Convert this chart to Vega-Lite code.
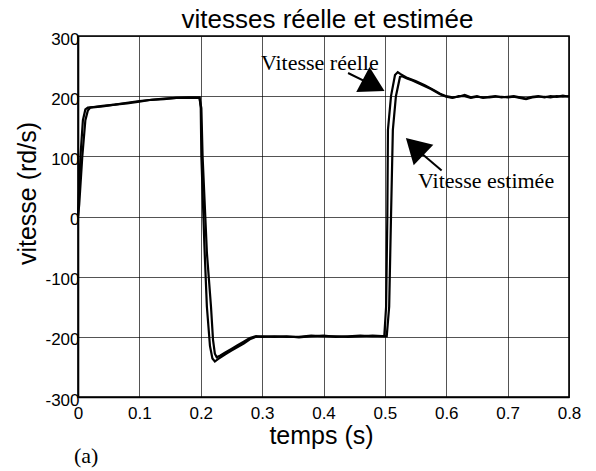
{
  "$schema": "https://vega.github.io/schema/vega-lite/v6.json",
  "width": 491,
  "height": 361,
  "autosize": {"type": "none"},
  "padding": {"left": 78, "top": 36, "right": 27, "bottom": 74},
  "background": "white",
  "config": {
    "view": {"stroke": "black", "strokeWidth": 1.6},
    "axis": {
      "domain": true, "domainColor": "black", "domainWidth": 1.6,
      "ticks": false, "tickSize": 0,
      "grid": true, "gridColor": "black", "gridOpacity": 0.85, "gridWidth": 0.8,
      "labelFont": "Liberation Sans", "labelFontSize": 17, "labelColor": "black",
      "titleFont": "Liberation Sans", "titleFontSize": 25, "titleFontWeight": "normal", "titleColor": "black"
    }
  },
  "title": {
    "text": "vitesses réelle et estimée",
    "font": "Liberation Sans", "fontSize": 26, "fontWeight": "normal", "color": "black",
    "anchor": "middle", "offset": -3, "dx": 4, "frame": "group"
  },
  "datasets": {
    "speed": [
      {"s": "réelle", "t": 0, "v": 0},
      {"s": "réelle", "t": 0.004, "v": 100},
      {"s": "réelle", "t": 0.008, "v": 160},
      {"s": "réelle", "t": 0.012, "v": 178},
      {"s": "réelle", "t": 0.016, "v": 181},
      {"s": "réelle", "t": 0.025, "v": 182},
      {"s": "réelle", "t": 0.04, "v": 184},
      {"s": "réelle", "t": 0.06, "v": 186},
      {"s": "réelle", "t": 0.08, "v": 189},
      {"s": "réelle", "t": 0.1, "v": 192},
      {"s": "réelle", "t": 0.12, "v": 194},
      {"s": "réelle", "t": 0.14, "v": 196},
      {"s": "réelle", "t": 0.16, "v": 197},
      {"s": "réelle", "t": 0.18, "v": 198},
      {"s": "réelle", "t": 0.198, "v": 198},
      {"s": "réelle", "t": 0.2, "v": 180},
      {"s": "réelle", "t": 0.201, "v": 100},
      {"s": "réelle", "t": 0.206, "v": -50},
      {"s": "réelle", "t": 0.21, "v": -150},
      {"s": "réelle", "t": 0.215, "v": -215},
      {"s": "réelle", "t": 0.219, "v": -236},
      {"s": "réelle", "t": 0.223, "v": -241},
      {"s": "réelle", "t": 0.228, "v": -237},
      {"s": "réelle", "t": 0.24, "v": -229},
      {"s": "réelle", "t": 0.25, "v": -223},
      {"s": "réelle", "t": 0.26, "v": -217},
      {"s": "réelle", "t": 0.27, "v": -211},
      {"s": "réelle", "t": 0.28, "v": -204},
      {"s": "réelle", "t": 0.29, "v": -200},
      {"s": "réelle", "t": 0.3, "v": -199},
      {"s": "réelle", "t": 0.32, "v": -200},
      {"s": "réelle", "t": 0.34, "v": -199},
      {"s": "réelle", "t": 0.36, "v": -201},
      {"s": "réelle", "t": 0.38, "v": -199},
      {"s": "réelle", "t": 0.4, "v": -198},
      {"s": "réelle", "t": 0.42, "v": -200},
      {"s": "réelle", "t": 0.44, "v": -199},
      {"s": "réelle", "t": 0.46, "v": -198},
      {"s": "réelle", "t": 0.48, "v": -199},
      {"s": "réelle", "t": 0.499, "v": -199},
      {"s": "réelle", "t": 0.502, "v": -150},
      {"s": "réelle", "t": 0.504, "v": 0},
      {"s": "réelle", "t": 0.505, "v": 144},
      {"s": "réelle", "t": 0.51, "v": 200},
      {"s": "réelle", "t": 0.5165, "v": 235},
      {"s": "réelle", "t": 0.521, "v": 240},
      {"s": "réelle", "t": 0.525, "v": 237},
      {"s": "réelle", "t": 0.535, "v": 231},
      {"s": "réelle", "t": 0.55, "v": 225},
      {"s": "réelle", "t": 0.565, "v": 218},
      {"s": "réelle", "t": 0.58, "v": 210},
      {"s": "réelle", "t": 0.59, "v": 204},
      {"s": "réelle", "t": 0.6, "v": 200},
      {"s": "réelle", "t": 0.61, "v": 198},
      {"s": "réelle", "t": 0.62, "v": 199},
      {"s": "réelle", "t": 0.63, "v": 202},
      {"s": "réelle", "t": 0.64, "v": 198},
      {"s": "réelle", "t": 0.65, "v": 200},
      {"s": "réelle", "t": 0.66, "v": 197},
      {"s": "réelle", "t": 0.67, "v": 199},
      {"s": "réelle", "t": 0.68, "v": 200},
      {"s": "réelle", "t": 0.69, "v": 198},
      {"s": "réelle", "t": 0.7, "v": 199},
      {"s": "réelle", "t": 0.71, "v": 200},
      {"s": "réelle", "t": 0.72, "v": 198},
      {"s": "réelle", "t": 0.73, "v": 196},
      {"s": "réelle", "t": 0.74, "v": 199},
      {"s": "réelle", "t": 0.75, "v": 200},
      {"s": "réelle", "t": 0.76, "v": 198},
      {"s": "réelle", "t": 0.77, "v": 200},
      {"s": "réelle", "t": 0.78, "v": 199},
      {"s": "réelle", "t": 0.79, "v": 201},
      {"s": "réelle", "t": 0.8, "v": 199},
      {"s": "estimée", "t": 0, "v": 0},
      {"s": "estimée", "t": 0.002, "v": 20},
      {"s": "estimée", "t": 0.007, "v": 100},
      {"s": "estimée", "t": 0.012, "v": 160},
      {"s": "estimée", "t": 0.016, "v": 176},
      {"s": "estimée", "t": 0.02, "v": 181},
      {"s": "estimée", "t": 0.04, "v": 183},
      {"s": "estimée", "t": 0.06, "v": 186},
      {"s": "estimée", "t": 0.08, "v": 188},
      {"s": "estimée", "t": 0.1, "v": 191},
      {"s": "estimée", "t": 0.12, "v": 194},
      {"s": "estimée", "t": 0.14, "v": 195},
      {"s": "estimée", "t": 0.16, "v": 197},
      {"s": "estimée", "t": 0.18, "v": 197},
      {"s": "estimée", "t": 0.198, "v": 197},
      {"s": "estimée", "t": 0.201, "v": 180},
      {"s": "estimée", "t": 0.203, "v": 100},
      {"s": "estimée", "t": 0.21, "v": -60},
      {"s": "estimée", "t": 0.2167, "v": -150},
      {"s": "estimée", "t": 0.22, "v": -205},
      {"s": "estimée", "t": 0.223, "v": -228},
      {"s": "estimée", "t": 0.226, "v": -234},
      {"s": "estimée", "t": 0.232, "v": -231},
      {"s": "estimée", "t": 0.24, "v": -226},
      {"s": "estimée", "t": 0.25, "v": -220},
      {"s": "estimée", "t": 0.26, "v": -214},
      {"s": "estimée", "t": 0.27, "v": -208},
      {"s": "estimée", "t": 0.28, "v": -202},
      {"s": "estimée", "t": 0.29, "v": -199},
      {"s": "estimée", "t": 0.3, "v": -200},
      {"s": "estimée", "t": 0.32, "v": -199},
      {"s": "estimée", "t": 0.34, "v": -200},
      {"s": "estimée", "t": 0.36, "v": -200},
      {"s": "estimée", "t": 0.38, "v": -198},
      {"s": "estimée", "t": 0.4, "v": -199},
      {"s": "estimée", "t": 0.42, "v": -199},
      {"s": "estimée", "t": 0.44, "v": -200},
      {"s": "estimée", "t": 0.46, "v": -199},
      {"s": "estimée", "t": 0.48, "v": -198},
      {"s": "estimée", "t": 0.503, "v": -199},
      {"s": "estimée", "t": 0.507, "v": -150},
      {"s": "estimée", "t": 0.51, "v": 0},
      {"s": "estimée", "t": 0.513, "v": 144},
      {"s": "estimée", "t": 0.518, "v": 200},
      {"s": "estimée", "t": 0.5246, "v": 232},
      {"s": "estimée", "t": 0.528, "v": 233},
      {"s": "estimée", "t": 0.535, "v": 230},
      {"s": "estimée", "t": 0.545, "v": 226},
      {"s": "estimée", "t": 0.56, "v": 219},
      {"s": "estimée", "t": 0.575, "v": 212},
      {"s": "estimée", "t": 0.59, "v": 203},
      {"s": "estimée", "t": 0.6, "v": 199},
      {"s": "estimée", "t": 0.61, "v": 197},
      {"s": "estimée", "t": 0.62, "v": 200},
      {"s": "estimée", "t": 0.63, "v": 200},
      {"s": "estimée", "t": 0.64, "v": 197},
      {"s": "estimée", "t": 0.65, "v": 199},
      {"s": "estimée", "t": 0.66, "v": 198},
      {"s": "estimée", "t": 0.67, "v": 198},
      {"s": "estimée", "t": 0.68, "v": 199},
      {"s": "estimée", "t": 0.69, "v": 199},
      {"s": "estimée", "t": 0.7, "v": 198},
      {"s": "estimée", "t": 0.71, "v": 199},
      {"s": "estimée", "t": 0.72, "v": 197},
      {"s": "estimée", "t": 0.73, "v": 195},
      {"s": "estimée", "t": 0.74, "v": 198},
      {"s": "estimée", "t": 0.75, "v": 199},
      {"s": "estimée", "t": 0.76, "v": 199},
      {"s": "estimée", "t": 0.77, "v": 198},
      {"s": "estimée", "t": 0.78, "v": 200},
      {"s": "estimée", "t": 0.79, "v": 199},
      {"s": "estimée", "t": 0.8, "v": 200}
    ],
    "labels": [
      {"label": "Vitesse réelle", "t": 0.298, "v": 243.5},
      {"label": "Vitesse estimée", "t": 0.554, "v": 47.5},
      {"label": "(a)", "t": -0.0065, "v": -409}
    ],
    "arrows": [
      {"name": "réelle", "t": 0.44, "v": 238.5, "t2": 0.476, "v2": 220.3, "tt": 0.4818, "vt": 218.1},
      {"name": "estimée", "t": 0.5925, "v": 76.3, "t2": 0.557, "v2": 107.3, "tt": 0.5486, "vt": 116.3}
    ]
  },
  "encoding": {
    "x": {
      "field": "t", "type": "quantitative",
      "scale": {"domain": [0, 0.8], "nice": false, "zero": false},
      "axis": {
        "values": [0, 0.1, 0.2, 0.3, 0.4, 0.5, 0.6, 0.7, 0.8],
        "format": "~g", "labelFlush": false, "labelBaseline": "top", "labelPadding": 8,
        "title": "temps (s)", "titleBaseline": "alphabetic", "titleY": 46, "titleX": 243
      }
    },
    "y": {
      "field": "v", "type": "quantitative",
      "scale": {"domain": [-300, 300], "nice": false, "zero": false},
      "axis": {
        "values": [-300, -200, -100, 0, 100, 200, 300],
        "labelExpr": "replace(datum.label, '−', '-')",
        "labelFlush": false, "labelBaseline": "middle", "labelPadding": -1, "labelOffset": 3,
        "title": "vitesse (rd/s)", "titleAngle": -90, "titleBaseline": "alphabetic",
        "titleAlign": "center", "titleX": -43, "titleY": 157
      }
    }
  },
  "layer": [
    {
      "data": {"name": "speed"},
      "mark": {"type": "line", "color": "black", "strokeWidth": 2.2, "interpolate": "linear"},
      "encoding": {"detail": {"field": "s", "type": "nominal"}}
    },
    {
      "data": {"name": "labels"},
      "mark": {"type": "text", "font": "Liberation Serif", "fontSize": 22, "color": "black", "align": "left", "baseline": "alphabetic"},
      "encoding": {"text": {"field": "label", "type": "nominal"}}
    },
    {
      "data": {"name": "arrows"},
      "mark": {"type": "rule", "color": "black", "strokeWidth": 2},
      "encoding": {"x2": {"field": "t2"}, "y2": {"field": "v2"}}
    },
    {
      "data": {"name": "arrows"},
      "transform": [{"filter": "datum.name === 'réelle'"}],
      "mark": {"type": "point", "shape": "triangle-right", "filled": true, "color": "black", "opacity": 1, "size": 800, "angle": 28},
      "encoding": {"x": {"field": "tt", "type": "quantitative"}, "y": {"field": "vt", "type": "quantitative"}}
    },
    {
      "data": {"name": "arrows"},
      "transform": [{"filter": "datum.name === 'estimée'"}],
      "mark": {"type": "point", "shape": "triangle-right", "filled": true, "color": "black", "opacity": 1, "size": 800, "angle": 224},
      "encoding": {"x": {"field": "tt", "type": "quantitative"}, "y": {"field": "vt", "type": "quantitative"}}
    }
  ]
}
